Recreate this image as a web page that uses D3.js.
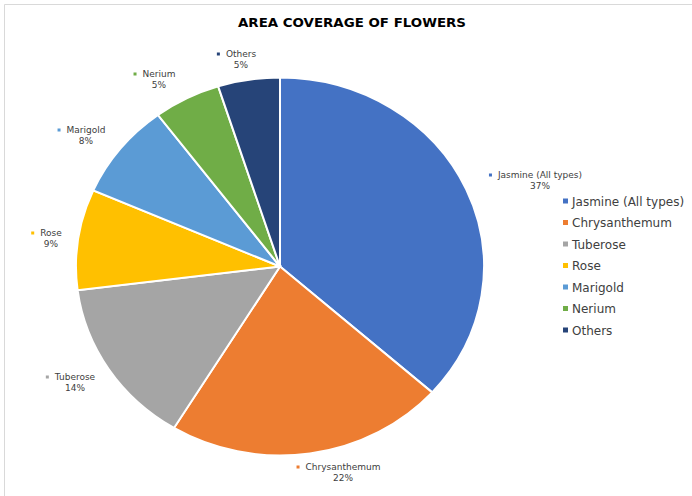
<!DOCTYPE html>
<html><head><meta charset="utf-8">
<script src="https://cdn.jsdelivr.net/npm/d3@7/dist/d3.min.js"></script>
<style>html,body{margin:0;padding:0;background:#fff;}svg{display:block;}</style>
</head><body>
<svg id="c" width="692" height="496"></svg>
<script>
const categories = ["Jasmine (All types)","Chrysanthemum","Tuberose","Rose","Marigold","Nerium","Others"];
const values = [36.6,22.1,14.3,8.6,8.2,5.3,4.9];
const percentLabels = ["37%","22%","14%","9%","8%","5%","5%"];
const colors = ["#4472C4","#ED7D31","#A5A5A5","#FFC000","#5B9BD5","#70AD47","#264478"];
const title = "AREA COVERAGE OF FLOWERS";
// label layout (text-block centres)
const labelPos = [[540,180],[343,472],[75,382],[51,238],[86,135],[159,79],[241,59]];

const svg = d3.select("#c");
const W = 692, H = 496;
svg.append("rect").attr("width",W).attr("height",H).attr("fill","#fff");
// frame lines
svg.append("line").attr("x1",4.5).attr("x2",W).attr("y1",4.5).attr("y2",4.5).attr("stroke","#d9d9d9").attr("stroke-width",1);
svg.append("line").attr("x1",4.5).attr("x2",4.5).attr("y1",4.5).attr("y2",H).attr("stroke","#d9d9d9").attr("stroke-width",1);

svg.append("text").attr("x",352).attr("y",27).attr("text-anchor","middle")
  .attr("font-family","DejaVu Sans").attr("font-weight","bold").attr("font-size",13)
  .attr("textLength",228).attr("lengthAdjust","spacingAndGlyphs")
  .attr("fill","#000").text(title);

const cx = 280, cy = 266.5, rx = 204, ry = 189;
const pie = d3.pie().sort(null).value(d=>d)(values);
const arc = d3.arc().innerRadius(0).outerRadius(ry);
const g = svg.append("g").attr("transform",`translate(${cx},${cy}) scale(${rx/ry},1)`);
g.selectAll("path").data(pie).join("path")
  .attr("d",arc).attr("fill",(d,i)=>colors[i])
  .attr("stroke","#fff").attr("stroke-width",2).attr("vector-effect","non-scaling-stroke");

// data labels
const lab = svg.append("g").attr("font-family","DejaVu Sans").attr("font-size",9).attr("fill","#404040");
pie.forEach((d,i)=>{
  const [x,y] = labelPos[i];
  const t = lab.append("text").attr("x",x).attr("y",y-2).attr("text-anchor","middle").text(categories[i]);
  const w = t.node().getComputedTextLength();
  lab.append("rect").attr("x",x-w/2-9).attr("y",y-6.5).attr("width",3).attr("height",3).attr("fill",colors[i]);
  lab.append("text").attr("x",x).attr("y",y+9).attr("text-anchor","middle").text(percentLabels[i]);
});

// legend
const leg = svg.append("g").attr("font-family","DejaVu Sans").attr("font-size",12).attr("fill","#404040");
categories.forEach((c,i)=>{
  const y = 201 + i*21.5;
  leg.append("rect").attr("x",563).attr("y",y-2.5).attr("width",5).attr("height",5).attr("fill",colors[i]);
  leg.append("text").attr("x",572).attr("y",y+4.5).text(c);
});
</script>
</body></html>
